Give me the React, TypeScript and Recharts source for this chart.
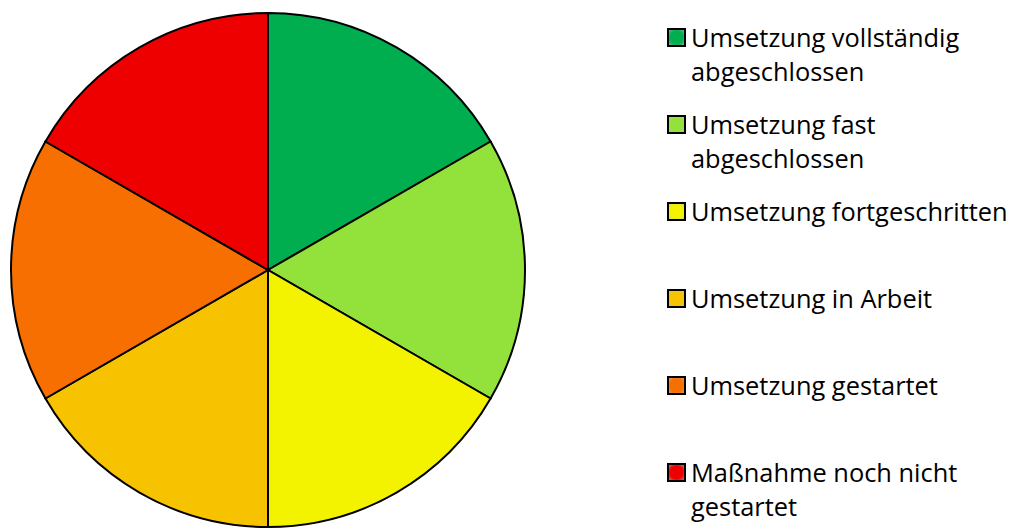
import React from "react";
import { PieChart, Pie, Cell, Legend } from "recharts";

const categories = [
  "Umsetzung vollständig abgeschlossen",
  "Umsetzung fast abgeschlossen",
  "Umsetzung fortgeschritten",
  "Umsetzung in Arbeit",
  "Umsetzung gestartet",
  "Maßnahme noch nicht gestartet",
];
const legendLines = [
  ["Umsetzung vollständig", "abgeschlossen"],
  ["Umsetzung fast", "abgeschlossen"],
  ["Umsetzung fortgeschritten"],
  ["Umsetzung in Arbeit"],
  ["Umsetzung gestartet"],
  ["Maßnahme noch nicht", "gestartet"],
];
const values = [1, 1, 1, 1, 1, 1];
const colors = ["#00AE50", "#93E23C", "#F3F300", "#F7C300", "#F66F00", "#EF0000"];

const data = categories.map((name, i) => ({ name, value: values[i] }));

const FONT = "'Open Sans', Lato, sans-serif";

const renderLegend = () => (
  <div style={{ position: "relative", width: 360, height: 520 }}>
    {legendLines.map((lines, i) => (
      <div
        key={i}
        style={{ position: "absolute", left: 0, top: 20 + i * 87, display: "flex", alignItems: "flex-start" }}
      >
        <div
          style={{
            width: 15,
            height: 15,
            border: "2px solid #000",
            background: `radial-gradient(circle, ${colors[i]} 40%, ${colors[i]} 60%, rgba(0,0,0,0.25) 130%)`,
            flex: "none",
          }}
        />
        <div
          style={{
            marginLeft: 5,
            marginTop: -8,
            fontFamily: FONT,
            fontSize: 25.4,
            lineHeight: "34px",
            color: "#000",
            whiteSpace: "nowrap",
          }}
        >
          {lines.map((l, j) => (
            <div key={j}>{l}</div>
          ))}
        </div>
      </div>
    ))}
  </div>
);

export default function App() {
  return (
    <PieChart width={1008} height={520} margin={{ top: 0, right: 0, bottom: 0, left: 0 }}>
      <Pie
        data={data}
        dataKey="value"
        nameKey="name"
        cx={260}
        cy={262}
        outerRadius={257}
        startAngle={90}
        endAngle={-270}
        stroke="#000"
        strokeWidth={2}
        isAnimationActive={false}
        label={false}
        labelLine={false}
      >
        {data.map((d, i) => (
          <Cell key={d.name} fill={colors[i]} />
        ))}
      </Pie>
      <Legend
        content={renderLegend}
        layout="vertical"
        wrapperStyle={{ position: "absolute", left: 659, top: 0, width: 360, height: 520 }}
      />
    </PieChart>
  );
}
